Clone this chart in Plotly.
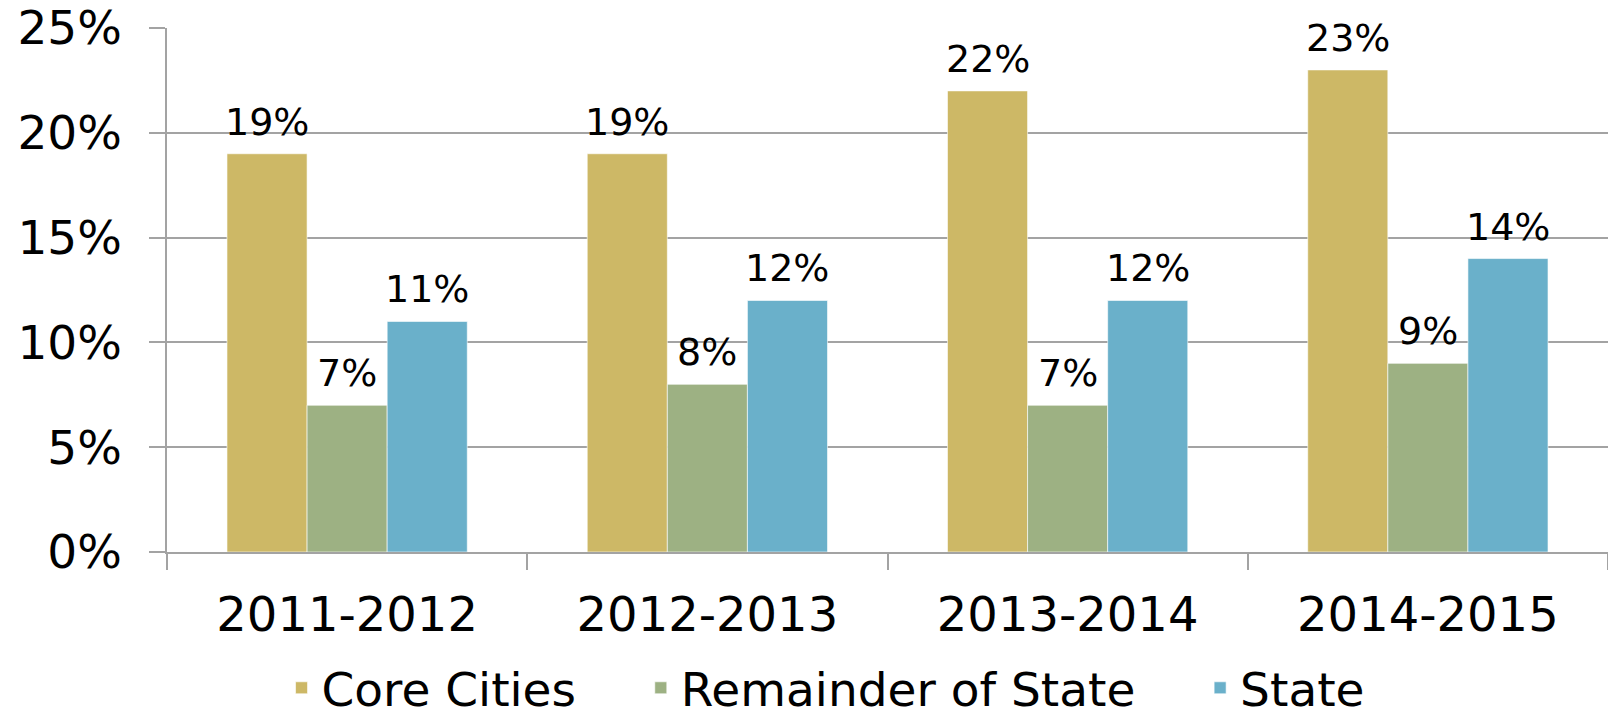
import plotly.graph_objects as go

periodos = ["2011-2012", "2012-2013", "2013-2014", "2014-2015"]
core_cities = [19, 19, 22, 23]
remainder = [7, 8, 7, 9]
state = [11, 12, 12, 14]

nombres = ["Core Cities", "Remainder of State", "State"]
colores = ["#CDB866", "#9DB183", "#6AB0CA"]
valores = [core_cities, remainder, state]

ancho, alto = 1608, 718
m_izq, m_der, m_sup, m_inf = 167, 0, 28, 166
bargap = 0.333
# ancho de cada barra en px (para desplazar etiquetas)
ancho_cat = (ancho - m_izq - m_der) / len(periodos)
ancho_barra = ancho_cat * (1 - bargap) / len(nombres)

# espacios para separar las entradas de la leyenda
relleno = ["\u00a0" * 4, "\u00a0" * 4, ""]

fig = go.Figure()
for i, (nombre, vals, color) in enumerate(zip(nombres, valores, colores)):
    fig.add_trace(go.Bar(
        x=periodos, y=vals, name=nombre + relleno[i],
        marker=dict(color=color, line=dict(color="rgba(255,255,255,0.6)", width=1)),
    ))
    for p, v in zip(periodos, vals):
        fig.add_annotation(x=p, y=v, text=f"{v}%", showarrow=False,
                           xshift=(i - 1) * ancho_barra, yshift=8, yanchor="bottom",
                           font=dict(size=38, color="black"))

gris = "#A3A3A3"
fig.update_layout(
    width=ancho, height=alto,
    barmode="group", bargap=bargap, bargroupgap=0,
    plot_bgcolor="white", paper_bgcolor="white",
    font=dict(family="DejaVu Sans", color="black"),
    margin=dict(l=m_izq, r=m_der, t=m_sup, b=m_inf, autoexpand=False),
    xaxis=dict(
        tickfont=dict(size=48), tickson="boundaries", ticks="outside",
        ticklen=16, tickcolor=gris, tickwidth=1.5,
        showline=True, linecolor=gris, linewidth=1.5,
        ticklabelstandoff=20, automargin=False,
    ),
    yaxis=dict(
        range=[0, 25], dtick=5, ticksuffix="%", tickfont=dict(size=47),
        showgrid=True, gridcolor=gris, gridwidth=1.5,
        ticks="outside", ticklen=16, tickcolor=gris, tickwidth=1.5,
        showline=True, linecolor=gris, linewidth=1.5, zeroline=False,
        ticklabelstandoff=18, automargin=False, ticklabeloverflow="allow",
    ),
    legend=dict(orientation="h", x=0.457, xanchor="center", y=-0.26, yanchor="middle",
                font=dict(size=47), itemwidth=30, traceorder="normal"),
)

fig.write_html("out.html", config={"displayModeBar": False},
               post_script="document.body.style.margin='0';")
